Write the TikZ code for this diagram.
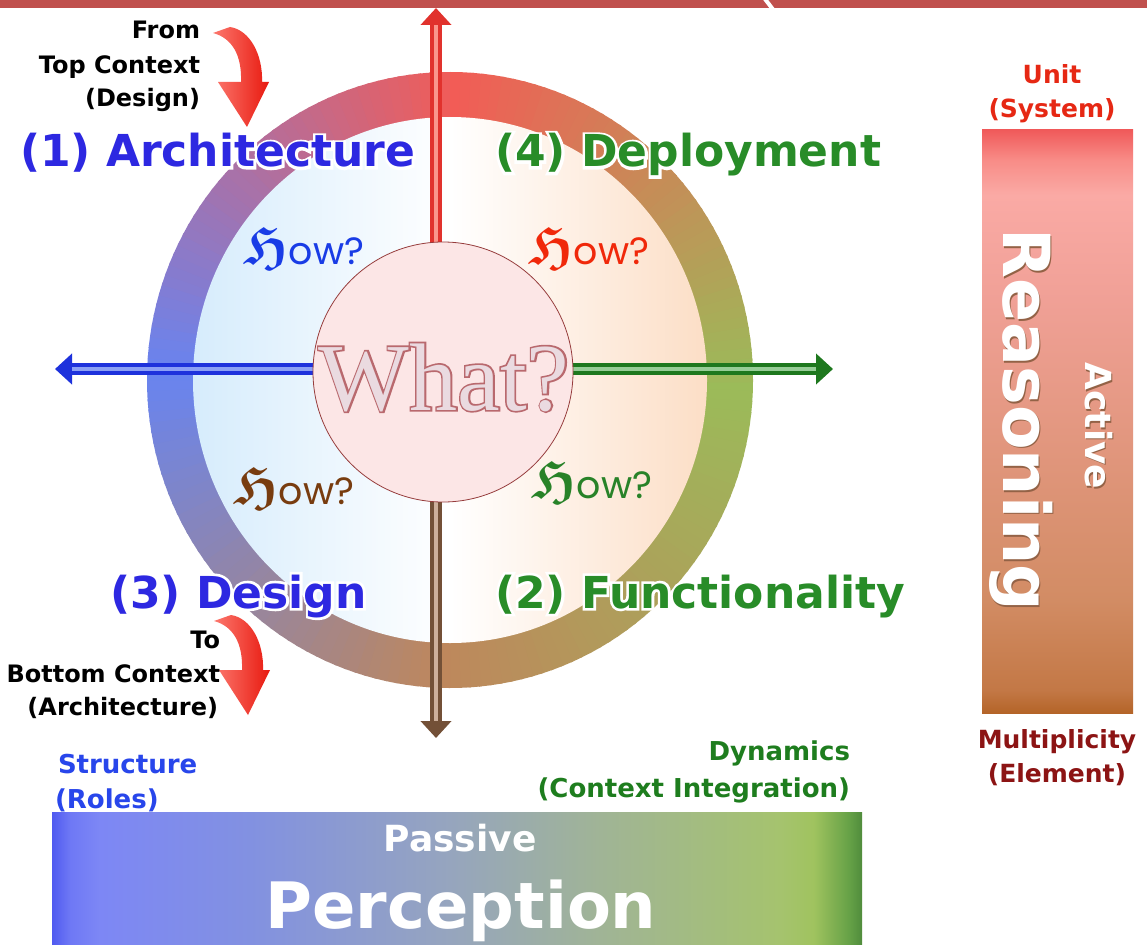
\documentclass[tikz,border=0pt]{standalone}
\usepackage{fontspec}
\usepackage{amssymb}
\usetikzlibrary{arrows.meta,shapes.geometric}
\newfontfamily\dvs{DejaVu Sans}
\newfontfamily\pop{Poppins}
\newfontfamily\lser{Liberation Serif}
\newfontface\whatOut{Liberation Serif}[FakeBold=3.5]
\newfontface\dvsGlow{DejaVu Sans Bold}[FakeBold=12]
\definecolor{topbar}{RGB}{192,80,77}
\definecolor{rgR}{RGB}{242,92,86}
\definecolor{rgB}{RGB}{104,132,240}
\definecolor{rgN}{RGB}{190,135,92}
\definecolor{rgG}{RGB}{155,187,89}
\definecolor{diskL}{RGB}{214,236,252}
\definecolor{diskR}{RGB}{252,222,198}
\definecolor{whatFill}{RGB}{252,230,230}
\definecolor{whatEdge}{RGB}{150,60,60}
\definecolor{whatTxt}{RGB}{234,218,224}
\definecolor{whatLine}{RGB}{185,105,110}
\definecolor{archBlue}{RGB}{45,40,225}
\definecolor{deplGreen}{RGB}{40,140,40}
\definecolor{howBlue}{RGB}{25,60,230}
\definecolor{howRed}{RGB}{240,40,10}
\definecolor{howBrown}{RGB}{120,60,15}
\definecolor{howGreen}{RGB}{40,130,40}
\definecolor{unitRed}{RGB}{230,40,20}
\definecolor{multRed}{RGB}{140,20,20}
\definecolor{strBlue}{RGB}{40,70,235}
\definecolor{dynGreen}{RGB}{30,125,30}
\definecolor{arrRed}{RGB}{225,50,45}
\definecolor{arrRedL}{RGB}{250,150,140}
\definecolor{arrBrown}{RGB}{115,80,55}
\definecolor{arrBrownL}{RGB}{205,175,155}
\definecolor{arrBlue}{RGB}{30,50,220}
\definecolor{arrBlueL}{RGB}{140,160,245}
\definecolor{arrGreen}{RGB}{30,120,30}
\definecolor{arrGreenL}{RGB}{150,205,150}
\definecolor{cArrL}{RGB}{252,120,110}
\definecolor{cArrR}{RGB}{232,25,15}
\definecolor{rbA}{RGB}{180,100,40}
\definecolor{rbB}{RGB}{195,120,70}
\definecolor{rbC}{RGB}{210,140,100}
\definecolor{rbD}{RGB}{225,150,125}
\definecolor{rbE}{RGB}{240,160,150}
\definecolor{rbF}{RGB}{250,170,165}
\definecolor{rbG}{RGB}{248,140,135}
\definecolor{rbH}{RGB}{240,90,90}
\definecolor{bbA}{RGB}{80,90,240}
\definecolor{bbB}{RGB}{110,120,245}
\definecolor{bbC}{RGB}{125,135,245}
\definecolor{bbD}{RGB}{130,145,225}
\definecolor{bbE}{RGB}{150,165,190}
\definecolor{bbF}{RGB}{160,180,150}
\definecolor{bbG}{RGB}{165,195,110}
\definecolor{bbH}{RGB}{160,195,95}
\definecolor{bbI}{RGB}{100,160,70}
\definecolor{bbJ}{RGB}{80,140,60}
\pgfdeclareverticalshading{rbarshade}{100bp}{color(0bp)=(rbA); color(25bp)=(rbA); color(26.97bp)=(rbB); color(34.69bp)=(rbC); color(47.56bp)=(rbD); color(60.43bp)=(rbE); color(69.43bp)=(rbF); color(72.43bp)=(rbG); color(75bp)=(rbH); color(100bp)=(rbH)}
\pgfdeclarehorizontalshading{bbarshade}{100bp}{color(0bp)=(bbA); color(25bp)=(bbA); color(26.11bp)=(bbB); color(27.96bp)=(bbC); color(37.22bp)=(bbD); color(49.57bp)=(bbE); color(58.83bp)=(bbF); color(69.94bp)=(bbG); color(72bp)=(bbH); color(74.26bp)=(bbI); color(75bp)=(bbJ); color(100bp)=(bbJ)}
\begin{document}
\begin{tikzpicture}[x=1pt,y=-1pt,every node/.style={inner sep=0pt,outer sep=0pt},
  blk/.style={font=\dvs\bfseries\fontsize{24}{24}\selectfont,text=black,anchor=base east},
  bigl/.style={font=\dvs\bfseries\fontsize{44}{44}\selectfont,anchor=base west},
  glowl/.style={font=\dvsGlow\fontsize{44}{44}\selectfont,anchor=base west,text=white},
  howl/.style={anchor=base west},
  howH/.style={},
  side/.style={font=\dvs\bfseries\fontsize{25}{25}\selectfont,anchor=base},
  xarrow/.style={line width=12pt,-{Triangle[length=17pt,width=30pt]}},
  xshine/.style={line width=3.5pt,line cap=butt},
  whatfont/.style={font=\lser\fontsize{96}{96}\selectfont,anchor=base}]
\useasboundingbox (0,0) rectangle (1147,944);
\fill[white] (0,0) rectangle (1147,944);
% top bar
\fill[topbar] (0,0) rectangle (1147,8);
\draw[white,line width=4pt] (765,-1) -- (773,9.5);
% ring
\begin{scope}[shift={(450,380)}]
\foreach \i in {0,...,179}{%
  \pgfmathtruncatemacro\q{\i/45}%
  \pgfmathtruncatemacro\p{100*(\i-45*\q)/45}%
  \pgfmathsetmacro\a{2*\i}%
  \pgfmathsetmacro\b{2*\i+2.5}%
  \ifcase\q\relax \colorlet{segc}{rgN!\p!rgG}\or \colorlet{segc}{rgB!\p!rgN}\or \colorlet{segc}{rgR!\p!rgB}\or \colorlet{segc}{rgG!\p!rgR}\fi
  \fill[segc] (\a:303 and 308) arc[start angle=\a,end angle=\b,x radius=303,y radius=308] -- (\b:250 and 256) arc[start angle=\b,end angle=\a,x radius=250,y radius=256] -- cycle;
}
\shade[left color=diskL,right color=diskR,middle color=white] (0,0) ellipse[x radius=257,y radius=263];
\end{scope}
% cross arrows
\coordinate (hub) at (436,369);
\coordinate (tipT) at (436,8);
\coordinate (tipB) at (436,738);
\coordinate (tipL) at (55,369);
\coordinate (tipR) at (833,369);
\draw[xarrow,arrRed] (hub) -- (tipT);
\draw[xshine,arrRedL,shorten >=17pt] (hub) -- (tipT);
\draw[xarrow,arrBrown] (hub) -- (tipB);
\draw[xshine,arrBrownL,shorten >=17pt] (hub) -- (tipB);
\draw[xarrow,arrBlue] (hub) -- (tipL);
\draw[xshine,arrBlueL,shorten >=17pt] (hub) -- (tipL);
\draw[xarrow,arrGreen] (hub) -- (tipR);
\draw[xshine,arrGreenL,shorten >=17pt] (hub) -- (tipR);
% centre circle
\node[circle,minimum size=260pt,fill=whatFill,draw=whatEdge,line width=0.8pt] (what) at (443,372) {};
\node[font=\whatOut\fontsize{96}{96}\selectfont,anchor=base,text=whatLine] (whatout) at (444,410) {What?};
\node[whatfont,text=whatTxt] (whatlbl) at (444,410) {What?};
% curved red arrows
\shade[left color=cArrL,right color=cArrR] (213,33) .. controls (232,38) and (242,55) .. (241,82) -- (218,82) -- (247,127) -- (269,82) -- (262,82) .. controls (263,55) and (250,30) .. (230,27) -- cycle;
\shade[left color=cArrL,right color=cArrR] (214,621) .. controls (233,626) and (243,643) .. (242,670) -- (219,670) -- (248,715) -- (270,670) -- (263,670) .. controls (264,643) and (251,618) .. (231,615) -- cycle;
% black context texts
\node[blk] (from1) at (200,39) {From};
\node[blk] (from2) at (200,74) {Top Context};
\node[blk] (from3) at (200,107) {(Design)};
\node[blk] (to1) at (220,648) {To};
\node[blk] (to2) at (220,682) {Bottom Context};
\node[blk] (to3) at (218,715) {(Architecture)};
% quadrant labels
\node[glowl] (archg) at (20,167) {(1) Architecture};
\node[bigl,text=archBlue] (arch) at (20,167) {(1) Architecture};
\node[glowl] (deplg) at (495,167) {(4) Deployment};
\node[bigl,text=deplGreen] (depl) at (495,167) {(4) Deployment};
\node[glowl] (desgg) at (110,608) {(3) Design};
\node[bigl,text=archBlue] (desg) at (110,608) {(3) Design};
\node[glowl] (funcg) at (495,608) {(2) Functionality};
\node[bigl,text=deplGreen] (func) at (495,608) {(2) Functionality};
% How? labels
\node[howl,text=howBlue] (how1) at (243,264) {{\fontsize{54}{54}\selectfont\boldmath$\mathfrak{H}$}{\pop\fontsize{38}{38}\selectfont ow?}};
\node[howl,text=howRed] (how4) at (528,264) {{\fontsize{54}{54}\selectfont\boldmath$\mathfrak{H}$}{\pop\fontsize{38}{38}\selectfont ow?}};
\node[howl,text=howBrown] (how3) at (233,504) {{\fontsize{54}{54}\selectfont\boldmath$\mathfrak{H}$}{\pop\fontsize{38}{38}\selectfont ow?}};
\node[howl,text=howGreen] (how2) at (531,498) {{\fontsize{54}{54}\selectfont\boldmath$\mathfrak{H}$}{\pop\fontsize{38}{38}\selectfont ow?}};
% right bar
\shade[shading=rbarshade] (982,130) rectangle (1133,713);
\node[side,text=unitRed] (unit) at (1052,84) {Unit};
\node[side,text=unitRed] (system) at (1052,118) {(System)};
\node[side,text=multRed] (mult) at (1057,748) {Multiplicity};
\node[side,text=multRed] (elem) at (1057,782) {(Element)};
\node[font=\dvs\bfseries\fontsize{65}{65}\selectfont,text=rbC!70!black,rotate=-90,anchor=base] (reasons) at (1004.5,421.5) {Reasoning};
\node[font=\dvs\bfseries\fontsize{65}{65}\selectfont,text=white,rotate=-90,anchor=base] (reason) at (1003,420) {Reasoning};
\node[font=\dvs\bfseries\fontsize{36}{36}\selectfont,text=rbC!70!black,rotate=-90,anchor=base] (actives) at (1086.5,427.5) {Active};
\node[font=\dvs\bfseries\fontsize{36}{36}\selectfont,text=white,rotate=-90,anchor=base] (active) at (1085,426) {Active};
% bottom bar
\shade[shading=bbarshade] (52,812) rectangle (862,944);
\node[font=\dvs\bfseries\fontsize{26}{26}\selectfont,text=strBlue,anchor=base west] (struct) at (58,773) {Structure};
\node[font=\dvs\bfseries\fontsize{26}{26}\selectfont,text=strBlue,anchor=base west] (roles) at (55,808) {(Roles)};
\node[font=\dvs\bfseries\fontsize{26}{26}\selectfont,text=dynGreen,anchor=base east] (dyn) at (850,760) {Dynamics};
\node[font=\dvs\bfseries\fontsize{26}{26}\selectfont,text=dynGreen,anchor=base east] (ctx) at (850,797) {(Context Integration)};
\node[font=\dvs\bfseries\fontsize{36}{36}\selectfont,text=white,anchor=base] (passive) at (460,851) {Passive};
\node[font=\dvs\bfseries\fontsize{64}{64}\selectfont,text=white,anchor=base] (percep) at (461,928) {Perception};
\end{tikzpicture}
\end{document}
